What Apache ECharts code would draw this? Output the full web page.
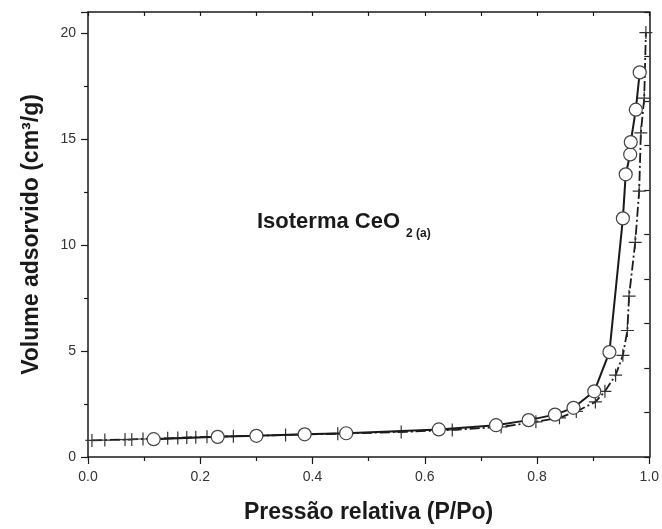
<!DOCTYPE html>
<html>
<head>
<meta charset="utf-8">
<script src="https://cdn.jsdelivr.net/npm/echarts@6/dist/echarts.min.js"></script>
<style>
  html, body { margin: 0; padding: 0; background: #fff; }
  #chart { width: 662px; height: 529px; }
</style>
</head>
<body>
<div id="chart"></div>
<script>
// adsorption branch (crosses)
const adsP = [0.007, 0.030, 0.066, 0.078, 0.098, 0.142, 0.160, 0.176, 0.192, 0.212, 0.259, 0.352, 0.445,
  0.558, 0.649, 0.736, 0.798, 0.840, 0.870, 0.904, 0.921, 0.940, 0.953, 0.961, 0.964, 0.975, 0.982, 0.985, 0.991, 0.994]
const adsV = [0.78, 0.80, 0.82, 0.83, 0.85, 0.88, 0.90, 0.92, 0.93, 0.95, 0.98, 1.04, 1.10,
  1.18, 1.28, 1.42, 1.66, 1.85, 2.15, 2.6, 3.1, 3.86, 4.8, 5.97, 7.59, 10.13, 12.55, 15.3, 16.94, 20.03]

// desorption branch (circles)
const desP = [0.117, 0.231, 0.300, 0.386, 0.460, 0.625, 0.727, 0.785, 0.832, 0.865, 0.902, 0.929,
  0.953, 0.958, 0.966, 0.967, 0.976, 0.983]
const desV = [0.84, 0.95, 1.0, 1.07, 1.12, 1.3, 1.5, 1.74, 2.0, 2.32, 3.1, 4.95,
  11.26, 13.34, 14.28, 14.86, 16.39, 18.15]

const font = "'Liberation Sans', Arial, sans-serif"
const ink = '#1a1a1a'

const chart = echarts.init(document.getElementById('chart'), null, { renderer: 'canvas' })

const pairs = (xs, ys) => xs.map((x, i) => [x, ys[i]])

const option = {
  animation: false,
  backgroundColor: '#fff',
  grid: { left: 88, right: 12, top: 12, bottom: 70 },
  xAxis: [
    {
      type: 'value', min: 0, max: 1, interval: 0.2,
      name: 'Pressão relativa (P/Po)', nameLocation: 'middle', nameGap: 44,
      nameTextStyle: { fontFamily: font, fontWeight: 'bold', fontSize: 23, color: ink },
      axisLine: { onZero: false, lineStyle: { color: ink, width: 1.5 } },
      axisTick: { length: 7, lineStyle: { color: ink, width: 1.2 } },
      minorTick: { show: true, splitNumber: 2, length: 4, lineStyle: { color: ink, width: 1.2 } },
      axisLabel: { fontFamily: font, fontSize: 14, color: '#333', margin: 13,
        formatter: v => v.toFixed(1) },
      splitLine: { show: false }
    },
    {
      type: 'value', position: 'top', min: 0, max: 1, interval: 0.1,
      axisLine: { show: true, onZero: false, lineStyle: { color: ink, width: 1.5 } },
      axisTick: { inside: true, length: 4, lineStyle: { color: ink, width: 1.2 } },
      axisLabel: { show: false },
      splitLine: { show: false }
    }
  ],
  yAxis: [
    {
      type: 'value', min: 0, max: 21, interval: 5,
      name: 'Volume adsorvido (cm³/g)', nameLocation: 'middle', nameGap: 45,
      nameTextStyle: { fontFamily: font, fontWeight: 'bold', fontSize: 23, color: ink },
      axisLine: { show: true, onZero: false, lineStyle: { color: ink, width: 1.5 } },
      axisTick: { length: 7, lineStyle: { color: ink, width: 1.2 } },
      minorTick: { show: true, splitNumber: 2, length: 4, lineStyle: { color: ink, width: 1.2 } },
      axisLabel: { fontFamily: font, fontSize: 14, color: '#333', margin: 12, showMaxLabel: false },
      splitLine: { show: false }
    },
    {
      type: 'value', position: 'right', min: 0, max: 21, interval: 2.1,
      axisLine: { show: true, onZero: false, lineStyle: { color: ink, width: 1.5 } },
      axisTick: { inside: true, length: 5, lineStyle: { color: ink, width: 1.2 } },
      axisLabel: { show: false },
      splitLine: { show: false }
    }
  ],
  graphic: [
    { type: 'text', left: 257, top: 211,
      style: { text: 'Isoterma CeO', font: 'bold 22px ' + font, fill: ink } },
    { type: 'text', left: 406, top: 228,
      style: { text: '2 (a)', font: 'bold 12px ' + font, fill: ink } }
  ],
  series: [
    {
      name: 'adsorção', type: 'line', data: pairs(adsP, adsV),
      showAllSymbol: true,
      symbol: 'path://M5,0 L5,10 M0,5 L10,5', symbolSize: 13,
      lineStyle: { color: ink, width: 1.8, type: [10, 3, 2, 3] },
      itemStyle: { color: 'transparent', borderColor: '#333', borderWidth: 1.2 },
      z: 2
    },
    {
      name: 'dessorção', type: 'line', data: pairs(desP, desV),
      showAllSymbol: true,
      symbol: 'circle', symbolSize: 13,
      lineStyle: { color: ink, width: 2 },
      itemStyle: { color: '#fff', borderColor: '#444', borderWidth: 1.2 },
      z: 3
    }
  ]
}

chart.setOption(option)
</script>
</body>
</html>
